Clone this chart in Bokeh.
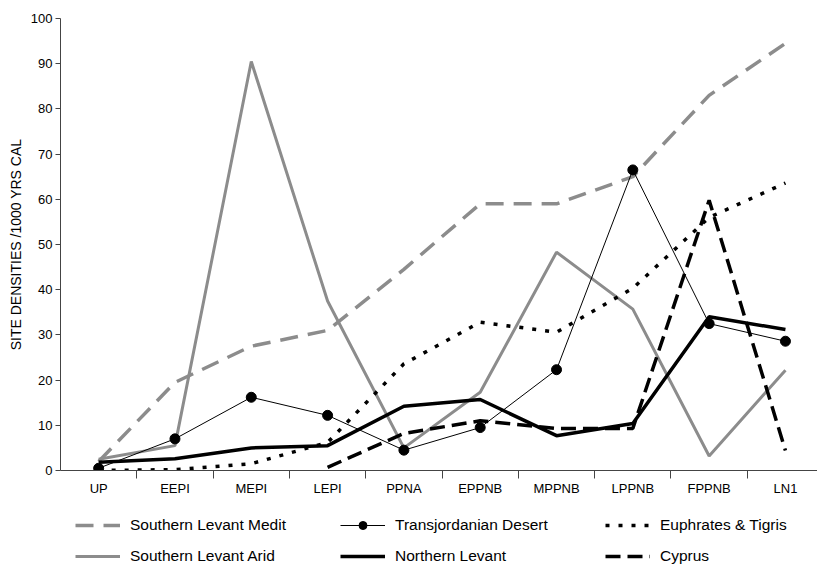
from bokeh.plotting import figure
from bokeh.models import FixedTicker, Legend, LegendItem, Range1d
from bokeh.layouts import column
from bokeh.embed import file_html
from bokeh.resources import INLINE

periods = ["UP", "EEPI", "MEPI", "LEPI", "PPNA", "EPPNB", "MPPNB", "LPPNB", "FPPNB", "LN1"]
s_levant_medit = [2, 19.5, 27.5, 31, 44.5, 59, 59, 65, 83, 94.5]
s_levant_arid = [2.5, 5.5, 90.5, 37.5, 5, 17.3, 48.3, 35.7, 3.2, 22.2]
transjordanian = [0.5, 7, 16.2, 12.2, 4.5, 9.5, 22.3, 66.5, 32.5, 28.6]
euphrates_tigris = [0, 0.2, 1.5, 6.2, 23.6, 32.8, 30.6, 40.3, 56, 63.6]
n_levant = [1.8, 2.6, 5.0, 5.5, 14.2, 15.7, 7.7, 10.4, 34, 31.2]
cyprus = [None, None, None, 0.7, 8.2, 11, 9.3, 9.3, 59.8, 4.4]
y_ticks = [0, 10, 20, 30, 40, 50, 60, 70, 80, 90, 100]
series_names = ["Southern Levant Medit", "Transjordanian Desert", "Euphrates & Tigris",
                "Southern Levant Arid", "Northern Levant", "Cyprus"]

xs = list(range(len(periods)))
def clean(v):
    return [float("nan") if a is None else a for a in v]

SERIES = {
    "Southern Levant Medit": s_levant_medit,
    "Transjordanian Desert": transjordanian,
    "Euphrates & Tigris": euphrates_tigris,
    "Southern Levant Arid": s_levant_arid,
    "Northern Levant": n_levant,
    "Cyprus": clean(cyprus),
}

GRAY = "#8c8c8c"
FONT = "Liberation Sans"
STYLES = {
    "Southern Levant Medit": dict(line_color=GRAY, line_width=3.5, line_dash="18 10"),
    "Southern Levant Arid": dict(line_color=GRAY, line_width=3),
    "Euphrates & Tigris": dict(line_color="black", line_width=3.5, line_dash="4 9"),
    "Cyprus": dict(line_color="black", line_width=3.5, line_dash="15 7"),
    "Northern Levant": dict(line_color="black", line_width=3.5),
    "Transjordanian Desert": dict(line_color="black", line_width=1),
}
DRAW_ORDER = ["Southern Levant Medit", "Southern Levant Arid", "Euphrates & Tigris",
              "Cyprus", "Northern Levant", "Transjordanian Desert"]

p = figure(width=817, height=498, output_backend="svg", toolbar_location=None,
           x_range=Range1d(-0.5, 9.42), y_range=Range1d(0, 100),
           min_border_left=60, min_border_top=18, min_border_right=0, min_border_bottom=28)
p.outline_line_color = None
p.grid.grid_line_color = None

for name in DRAW_ORDER:
    p.line(xs, SERIES[name], **STYLES[name])
p.scatter(xs, transjordanian, size=10, color="black")

xa = p.xaxis[0]
xa.ticker = FixedTicker(ticks=xs, minor_ticks=[i + 0.5 for i in range(9)])
xa.major_label_overrides = {i: lab for i, lab in enumerate(periods)}
xa.major_tick_out = 0
xa.major_tick_in = 0
xa.minor_tick_out = 8
xa.minor_tick_in = 0
xa.major_label_standoff = 2
xa.axis_line_color = "#444444"
xa.minor_tick_line_color = "#444444"
xa.major_label_text_font = FONT
xa.major_label_text_font_size = "13px"
xa.major_label_text_color = "black"

ya = p.yaxis[0]
ya.ticker = FixedTicker(ticks=y_ticks)
ya.minor_tick_line_color = None
ya.major_tick_out = 5
ya.major_tick_in = 0
ya.axis_line_color = "#444444"
ya.major_tick_line_color = "#444444"
ya.major_label_text_font = FONT
ya.major_label_text_font_size = "13px"
ya.major_label_text_color = "black"
ya.major_label_standoff = 3
ya.axis_label = "SITE DENSITIES /1000 YRS CAL"
ya.axis_label_text_font = FONT
ya.axis_label_text_font_style = "normal"
ya.axis_label_text_font_size = "14px"
ya.axis_label_text_color = "black"
ya.axis_label_standoff = 4

# legend panel (its renderers lie outside its visible range; only the legend shows)
p2 = figure(width=817, height=70, output_backend="svg", toolbar_location=None,
            x_range=Range1d(100, 101), y_range=Range1d(100, 101),
            x_axis_location=None, y_axis_location=None,
            min_border_left=0, min_border_right=0, min_border_top=0, min_border_bottom=0)
p2.outline_line_color = None
p2.grid.grid_line_color = None
rends = {}
for name in series_names:
    r = [p2.line(xs, SERIES[name], **STYLES[name])]
    if name == "Transjordanian Desert":
        r.append(p2.scatter(xs, SERIES[name], size=10, color="black"))
    rends[name] = r

for names, ypos in ((series_names[:3], 33), (series_names[3:], 2)):
    lg = Legend(items=[LegendItem(label=n, renderers=rends[n]) for n in names],
                orientation="horizontal", location=(15, ypos),
                border_line_color=None, background_fill_alpha=0,
                label_text_font=FONT, label_text_font_size="15.5px", label_text_color="black",
                glyph_width=45, glyph_height=20, label_height=20, label_standoff=10,
                label_width=160, spacing=50, margin=0, padding=0)
    p2.add_layout(lg, "center")

open("out.html", "w").write(file_html(column(p, p2, spacing=0), INLINE))
